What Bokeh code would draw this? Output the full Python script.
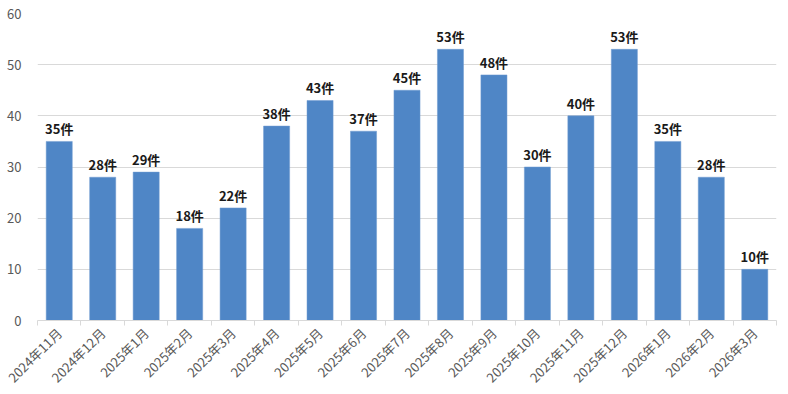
import math
from bokeh.plotting import figure
from bokeh.models import ColumnDataSource, FixedTicker, Range1d
from bokeh.core.properties import value
from bokeh.embed import file_html
from bokeh.resources import INLINE

months = ["2024年11月", "2024年12月", "2025年1月", "2025年2月", "2025年3月", "2025年4月",
          "2025年5月", "2025年6月", "2025年7月", "2025年8月", "2025年9月", "2025年10月",
          "2025年11月", "2025年12月", "2026年1月", "2026年2月", "2026年3月"]
counts = [35, 28, 29, 18, 22, 38, 43, 37, 45, 53, 48, 30, 40, 53, 35, 28, 10]
y_ticks = [0, 10, 20, 30, 40, 50, 60]

FONT = "Noto Sans CJK JP"
n = len(months)
xs = [i + 0.5 for i in range(n)]
src = ColumnDataSource(dict(x=xs, top=counts, label=[f"{c}件" for c in counts]))

p = figure(frame_width=739, frame_height=307, output_backend="svg", toolbar_location=None,
           x_range=Range1d(0, n), y_range=Range1d(0, 60),
           min_border_left=37, min_border_right=10, min_border_top=13, min_border_bottom=68)
p.outline_line_color = None

p.vbar(x="x", top="top", width=0.6, source=src, fill_color="#4F86C6", line_color="#6E9BD1", line_width=0.5)
p.text(x="x", y="top", text="label", source=src, text_align="center", text_baseline="bottom",
       y_offset=-3, text_font=value(FONT), text_font_size="13px", text_font_style="bold",
       text_color="#1A1A1A")

# x axis
xa = p.xaxis[0]
xa.ticker = FixedTicker(ticks=xs, minor_ticks=list(range(n + 1)))
xa.major_label_overrides = {x: m for x, m in zip(xs, months)}
xa.major_label_orientation = math.pi / 4
xa.major_tick_line_color = None
xa.minor_tick_line_color = "#D9D9D9"
xa.minor_tick_out = 5
xa.minor_tick_in = 0
xa.axis_line_color = "#D9D9D9"
xa.major_label_text_font = FONT
xa.major_label_text_font_size = "13px"
xa.major_label_text_color = "#595959"
xa.major_label_standoff = 4

# y axis
ya = p.yaxis[0]
ya.ticker = FixedTicker(ticks=y_ticks)
ya.axis_line_color = None
ya.major_tick_line_color = None
ya.minor_tick_line_color = None
ya.major_label_text_font = FONT
ya.major_label_text_font_size = "13px"
ya.major_label_text_color = "#595959"
ya.major_label_standoff = 10

p.xgrid.grid_line_color = None
p.ygrid.grid_line_color = "#D9D9D9"
p.ygrid.ticker = FixedTicker(ticks=y_ticks)

open("out.html", "w").write(file_html(p, INLINE))
